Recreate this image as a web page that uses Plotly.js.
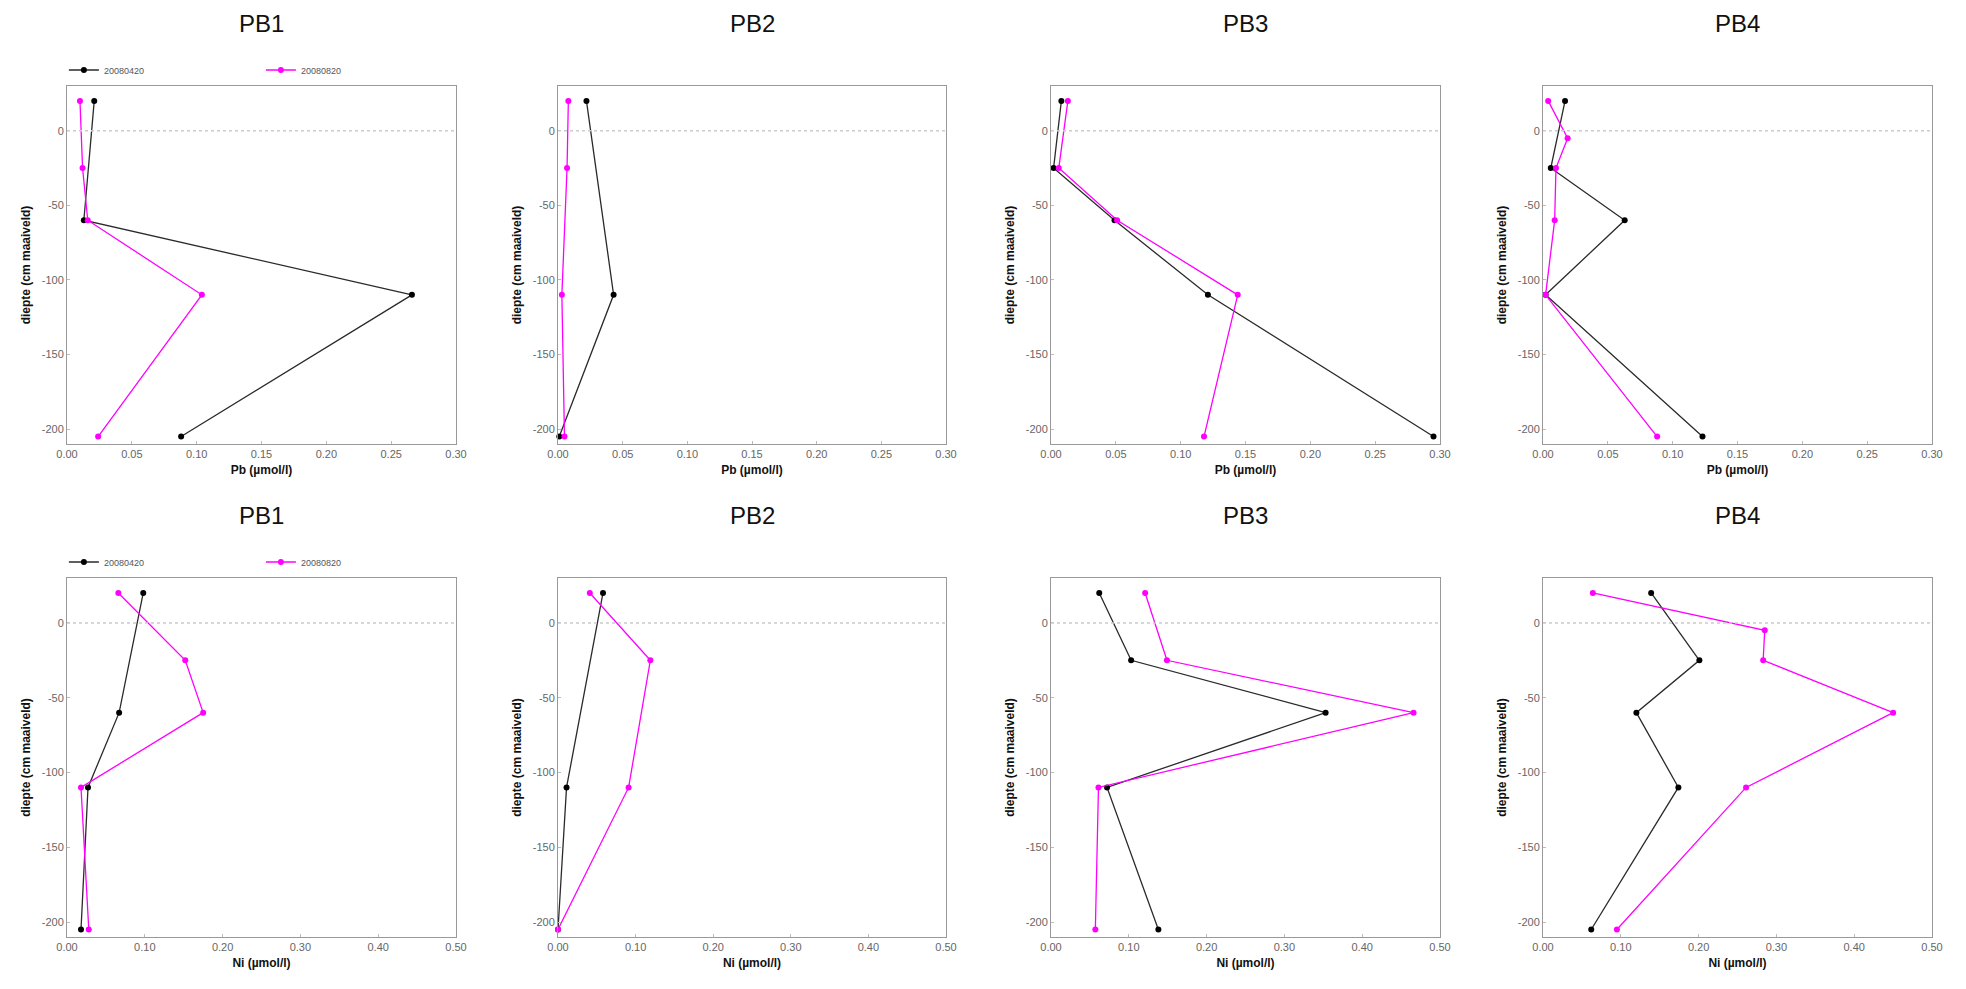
<!DOCTYPE html>
<html>
<head>
<meta charset="utf-8">
<script src="https://cdn.plot.ly/plotly-3.0.1.min.js"></script>
<style>html,body{margin:0;padding:0;background:#fff;}#chart{width:1966px;height:989px;}</style>
</head>
<body>
<div id="chart"></div>
<script>
// ---------- DATA ----------
const panelNames = ["PB1", "PB2", "PB3", "PB4"];
const seriesNames = ["20080420", "20080820"];
const yTickVals = [0, -50, -100, -150, -200];
const yTickText = ["0", "-50", "-100", "-150", "-200"];
const pbTickVals = [0, 0.05, 0.10, 0.15, 0.20, 0.25, 0.30];
const niTickVals = [0, 0.10, 0.20, 0.30, 0.40, 0.50];

// Pb (µmol/l) — depth (cm maaiveld)
const pb1DepthA = [20, -60, -110, -205];
const pb1ValA   = [0.021, 0.013, 0.266, 0.088];
const pb1DepthB = [20, -25, -60, -110, -205];
const pb1ValB   = [0.010, 0.012, 0.016, 0.104, 0.024];

const pb2DepthA = [20, -110, -205];
const pb2ValA   = [0.022, 0.043, 0.001];
const pb2DepthB = [20, -25, -110, -205];
const pb2ValB   = [0.008, 0.007, 0.003, 0.005];

const pb3DepthA = [20, -25, -60, -110, -205];
const pb3ValA   = [0.008, 0.002, 0.049, 0.121, 0.295];
const pb3DepthB = [20, -25, -60, -110, -205];
const pb3ValB   = [0.013, 0.006, 0.051, 0.144, 0.118];

const pb4DepthA = [20, -25, -60, -110, -205];
const pb4ValA   = [0.017, 0.006, 0.063, 0.002, 0.123];
const pb4DepthB = [20, -5, -25, -60, -110, -205];
const pb4ValB   = [0.004, 0.019, 0.010, 0.009, 0.002, 0.088];

// Ni (µmol/l)
const ni1DepthA = [20, -60, -110, -205];
const ni1ValA   = [0.098, 0.067, 0.027, 0.018];
const ni1DepthB = [20, -25, -60, -110, -205];
const ni1ValB   = [0.066, 0.152, 0.175, 0.018, 0.028];

const ni2DepthA = [20, -110, -205];
const ni2ValA   = [0.058, 0.011, 0.000];
const ni2DepthB = [20, -25, -110, -205];
const ni2ValB   = [0.041, 0.119, 0.091, 0.000];

const ni3DepthA = [20, -25, -60, -110, -205];
const ni3ValA   = [0.062, 0.103, 0.353, 0.072, 0.138];
const ni3DepthB = [20, -25, -60, -110, -205];
const ni3ValB   = [0.121, 0.149, 0.466, 0.061, 0.057];

const ni4DepthA = [20, -25, -60, -110, -205];
const ni4ValA   = [0.139, 0.201, 0.120, 0.174, 0.062];
const ni4DepthB = [20, -5, -25, -60, -110, -205];
const ni4ValB   = [0.064, 0.285, 0.283, 0.450, 0.261, 0.095];

// ---------- BUILD ----------
const W = 1966, H = 989;
const FONT = "Liberation Sans, Arial, sans-serif";
const colA = "#2a2a2a", colB = "#ff00ff";

const panels = [
  {a: [pb1ValA, pb1DepthA], b: [pb1ValB, pb1DepthB], metal: "Pb"},
  {a: [pb2ValA, pb2DepthA], b: [pb2ValB, pb2DepthB], metal: "Pb"},
  {a: [pb3ValA, pb3DepthA], b: [pb3ValB, pb3DepthB], metal: "Pb"},
  {a: [pb4ValA, pb4DepthA], b: [pb4ValB, pb4DepthB], metal: "Pb"},
  {a: [ni1ValA, ni1DepthA], b: [ni1ValB, ni1DepthB], metal: "Ni"},
  {a: [ni2ValA, ni2DepthA], b: [ni2ValB, ni2DepthB], metal: "Ni"},
  {a: [ni3ValA, ni3DepthA], b: [ni3ValB, ni3DepthB], metal: "Ni"},
  {a: [ni4ValA, ni4DepthA], b: [ni4ValB, ni4DepthB], metal: "Ni"}
];

const colPx = [[67, 456], [558, 946], [1051, 1440], [1543, 1932]];
const rowPx = [[86, 444], [578, 937]];

const data = [];
const legendStyle = {
  orientation: "h", xanchor: "left", yanchor: "middle",
  font: {size: 9, color: "#555", family: FONT}, entrywidth: 152, entrywidthmode: "pixels",
  bgcolor: "rgba(0,0,0,0)", itemclick: false
};
const layout = {
  width: W, height: H,
  margin: {l: 0, r: 0, t: 0, b: 0},
  paper_bgcolor: "#fff", plot_bgcolor: "#fff",
  font: {family: FONT, color: "#333"},
  showlegend: true,
  annotations: [], shapes: [],
  legend: Object.assign({}, legendStyle, {x: 0.0325, y: 1 - 70 / H}),
  legend2: Object.assign({}, legendStyle, {x: 0.0325, y: 1 - 562 / H})
};

panels.forEach((p, i) => {
  const row = Math.floor(i / 4), col = i % 4;
  const n = i + 1;
  const xa = n === 1 ? "x" : "x" + n, ya = n === 1 ? "y" : "y" + n;
  const xKey = n === 1 ? "xaxis" : "xaxis" + n, yKey = n === 1 ? "yaxis" : "yaxis" + n;
  const isPb = p.metal === "Pb";
  const showLeg = col === 0;
  const legRef = row === 0 ? "legend" : "legend2";

  data.push({
    type: "scatter", mode: "lines+markers", x: p.a[0], y: p.a[1], xaxis: xa, yaxis: ya,
    name: seriesNames[0], showlegend: showLeg, legend: legRef, cliponaxis: false,
    line: {color: colA, width: 1.3}, marker: {color: "#000", size: 6}
  });
  data.push({
    type: "scatter", mode: "lines+markers", x: p.b[0], y: p.b[1], xaxis: xa, yaxis: ya,
    name: seriesNames[1], showlegend: showLeg, legend: legRef, cliponaxis: false,
    line: {color: colB, width: 1.3}, marker: {color: colB, size: 6}
  });

  layout[xKey] = {
    domain: [colPx[col][0] / W, colPx[col][1] / W],
    anchor: ya,
    range: isPb ? [0, 0.30] : [0, 0.50],
    tickvals: isPb ? pbTickVals : niTickVals,
    tickformat: ".2f",
    ticks: "inside", ticklen: 3, tickcolor: "#bbb",
    showgrid: false, zeroline: false,
    showline: true, linecolor: "#999", linewidth: 1, mirror: true,
    tickfont: {size: 11, color: "#666", family: FONT},
    title: {text: isPb ? "Pb (µmol/l)" : "Ni (µmol/l)", font: {size: 12, color: "#111", family: FONT, weight: "bold"}, standoff: 6},
    fixedrange: true
  };
  layout[yKey] = {
    domain: [1 - rowPx[row][1] / H, 1 - rowPx[row][0] / H],
    anchor: xa,
    range: [-210, 30],
    tickvals: yTickVals, ticktext: yTickText,
    ticks: "inside", ticklen: 3, tickcolor: "#bbb",
    showgrid: false, zeroline: false,
    showline: true, linecolor: "#999", linewidth: 1, mirror: true,
    tickfont: {size: 11, color: "#666", family: FONT},
    title: {text: "diepte (cm maaiveld)", font: {size: 12, color: "#111", family: FONT, weight: "bold"}, standoff: 8},
    fixedrange: true
  };

  // dotted zero line
  layout.shapes.push({
    type: "line", xref: xa + " domain", yref: ya,
    x0: 0, x1: 1, y0: 0, y1: 0,
    line: {color: "#cccccc", width: 1.5, dash: "dot"}
  });

  // panel title
  layout.annotations.push({
    text: panelNames[col], showarrow: false, xref: "paper", yref: "paper",
    x: (colPx[col][0] + colPx[col][1]) / 2 / W,
    y: 1 - (row === 0 ? 23 : 515) / H,
    xanchor: "center", yanchor: "middle",
    font: {size: 24, color: "#111", family: FONT}
  });
});

Plotly.newPlot("chart", data, layout, {displayModeBar: false, staticPlot: true});
</script>
</body>
</html>
